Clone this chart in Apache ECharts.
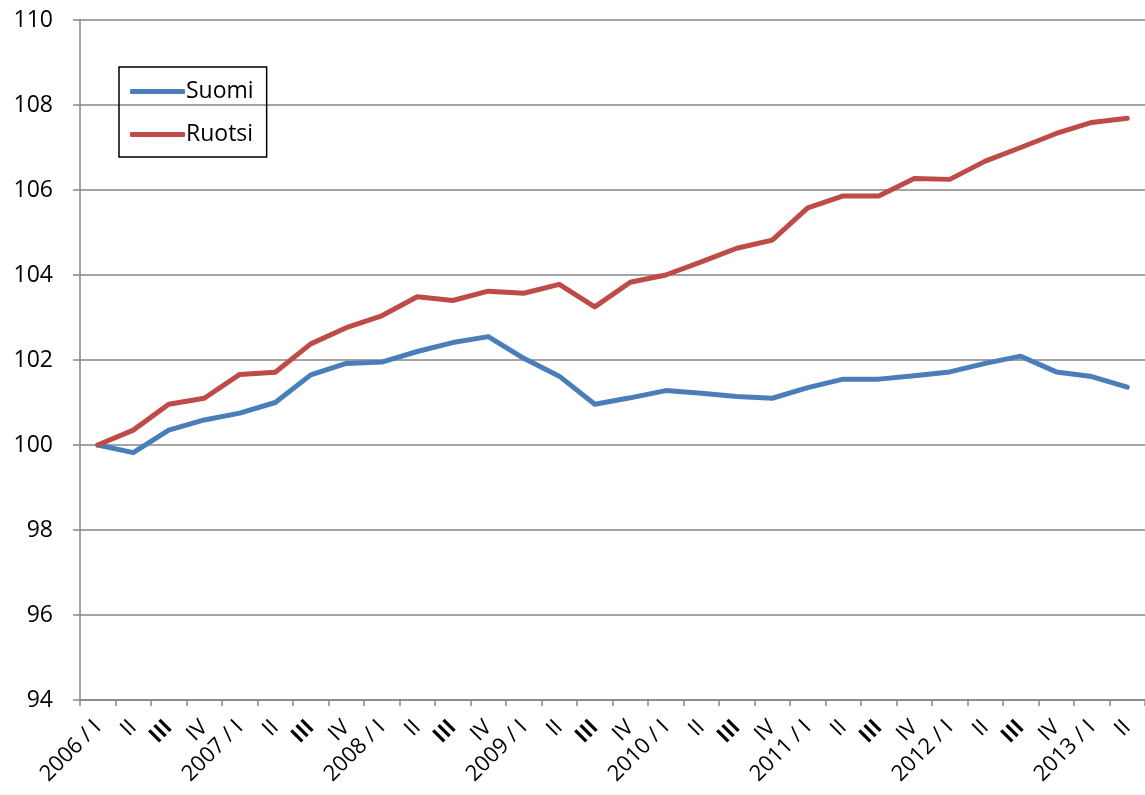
<!DOCTYPE html>
<html>
<head>
<meta charset="utf-8">
<script src="https://cdn.jsdelivr.net/npm/echarts@6/dist/echarts.min.js"></script>
<style>
html,body{margin:0;padding:0;background:#fff;}
#chart{width:1145px;height:795px;}
</style>
</head>
<body>
<div id="chart"></div>
<script>
const categories = [
  '2006 / I','II','III','IV',
  '2007 / I','II','III','IV',
  '2008 / I','II','III','IV',
  '2009 / I','II','III','IV',
  '2010 / I','II','III','IV',
  '2011 / I','II','III','IV',
  '2012 / I','II','III','IV',
  '2013 / I','II'
];
const suomi = [
  100.0, 99.82, 100.35, 100.59, 100.75, 101.0, 101.65, 101.92, 101.95, 102.2,
  102.41, 102.55, 102.04, 101.62, 100.96, 101.11, 101.28, 101.22, 101.14, 101.1,
  101.35, 101.55, 101.55, 101.63, 101.72, 101.92, 102.09, 101.72, 101.61, 101.36
];
const ruotsi = [
  100.0, 100.35, 100.96, 101.1, 101.66, 101.71, 102.38, 102.76, 103.04, 103.49,
  103.4, 103.62, 103.57, 103.78, 103.25, 103.83, 104.0, 104.31, 104.63, 104.82,
  105.58, 105.86, 105.86, 106.27, 106.25, 106.68, 107.0, 107.33, 107.59, 107.69
];
const yMin = 94, yMax = 110, yStep = 2;

const FONT = '"Open Sans", sans-serif';
const chart = echarts.init(document.getElementById('chart'));
chart.setOption({
  animation: false,
  backgroundColor: '#ffffff',
  grid: { left: 80, top: 20, right: -10, bottom: 95, containLabel: false },
  legend: {
    orient: 'vertical',
    left: 119, top: 67,
    padding: [13, 13, 11, 11],
    borderColor: '#000', borderWidth: 1.5,
    itemWidth: 55, itemHeight: 5,
    itemGap: 20,
    icon: 'roundRect',
    textStyle: { fontFamily: FONT, fontSize: 23, color: '#000', padding: [0, 0, 0, -4] },
    data: ['Suomi', 'Ruotsi']
  },
  xAxis: {
    type: 'category',
    data: categories,
    boundaryGap: true,
    axisLine: { lineStyle: { color: '#868686', width: 1.5 } },
    axisTick: { show: true, length: 6, lineStyle: { color: '#868686', width: 1.5 }, interval: 0 },
    axisLabel: {
      interval: 0, rotate: 45, margin: 24,
      fontFamily: FONT, fontSize: 22, color: '#000',
      formatter: v => v === 'III' ? '{b|III}' : v,
      rich: { b: { fontFamily: FONT, fontSize: 22, fontWeight: 'bold', color: '#000' } }
    },
    splitLine: { show: false }
  },
  yAxis: {
    type: 'value',
    min: yMin, max: yMax, interval: yStep,
    axisLine: { show: true, lineStyle: { color: '#868686', width: 1.5 } },
    axisTick: { show: true, length: 7, inside: false, lineStyle: { color: '#868686', width: 1.5 } },
    axisLabel: { margin: 27, fontFamily: FONT, fontSize: 23, color: '#000' },
    splitLine: { show: true, lineStyle: { color: '#868686', width: 1.5 } }
  },
  series: [
    {
      name: 'Suomi', type: 'line', data: suomi,
      showSymbol: false, symbol: 'none',
      lineStyle: { color: '#4a7ebb', width: 5, cap: 'round', join: 'round' },
      itemStyle: { color: '#4a7ebb' }
    },
    {
      name: 'Ruotsi', type: 'line', data: ruotsi,
      showSymbol: false, symbol: 'none',
      lineStyle: { color: '#be4b48', width: 5, cap: 'round', join: 'round' },
      itemStyle: { color: '#be4b48' }
    }
  ]
});
</script>
</body>
</html>
